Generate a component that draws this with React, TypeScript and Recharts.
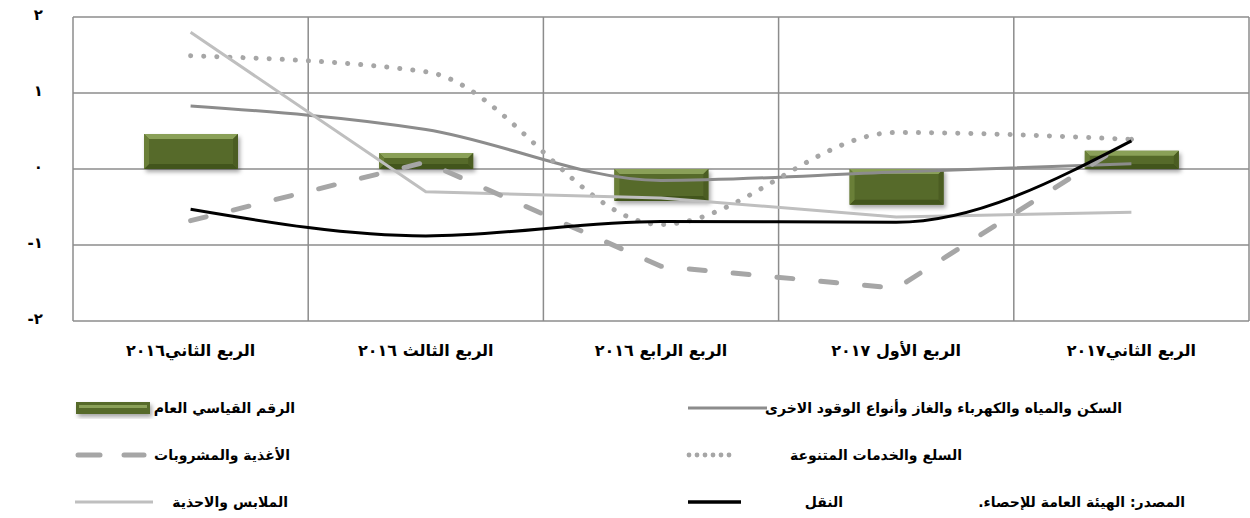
import React from 'react'
import { ComposedChart, Bar, Line, XAxis, YAxis, CartesianGrid } from 'recharts'

const categories = [
  'الربع الثاني٢٠١٦',
  'الربع الثالث ٢٠١٦',
  'الربع الرابع ٢٠١٦',
  'الربع الأول ٢٠١٧',
  'الربع الثاني٢٠١٧',
]

// series values
const generalIndex = [0.46, 0.21, -0.42, -0.47, 0.24]
const housing = [0.83, 0.52, -0.15, -0.04, 0.07]
const miscGoods = [1.49, 1.28, -0.73, 0.48, 0.39]
const food = [-0.68, 0.09, -1.28, -1.57, 0.39]
const clothing = [1.8, -0.3, -0.38, -0.63, -0.57]
const transport = [-0.53, -0.88, -0.69, -0.7, 0.37]

const yTicks = [-2, -1, 0, 1, 2]
const arabicDigits = ['٠', '١', '٢', '٣', '٤', '٥', '٦', '٧', '٨', '٩']

const data = categories.map((name, i) => ({
  name,
  generalIndex: generalIndex[i],
  housing: housing[i],
  miscGoods: miscGoods[i],
  food: food[i],
  clothing: clothing[i],
  transport: transport[i],
}))

const FONT = '"DejaVu Sans", sans-serif'

function toArabic(v: number) {
  const s = String(Math.abs(v))
    .split('')
    .map((c) => arabicDigits[Number(c)] ?? c)
    .join('')
  return v < 0 ? '-' + s : s
}

function BevelBar(props: any) {
  const { x, y, width, height } = props
  const top = Math.min(y, y + height)
  const h = Math.abs(height)
  const b = Math.min(5, h / 3)
  return (
    <g filter="url(#barShadow)">
      <rect x={x} y={top} width={width} height={h} fill="#566a2a" />
      <polygon
        points={`${x},${top} ${x + width},${top} ${x + width - b},${top + b} ${x + b},${top + b}`}
        fill="#8aa059"
      />
      <polygon
        points={`${x},${top + h} ${x + width},${top + h} ${x + width - b},${top + h - b} ${x + b},${top + h - b}`}
        fill="#43541f"
      />
      <polygon
        points={`${x + width},${top} ${x + width},${top + h} ${x + width - b},${top + h - b} ${x + width - b},${top + b}`}
        fill="#4b5d23"
      />
      <polygon
        points={`${x},${top} ${x},${top + h} ${x + b},${top + h - b} ${x + b},${top + b}`}
        fill="#6a7f38"
      />
    </g>
  )
}

function LegendText({ right, y, children }: { right: number; y: number; children: React.ReactNode }) {
  return (
    <div
      dir="rtl"
      style={{
        position: 'absolute',
        right: 1250 - right,
        top: y - 11,
        lineHeight: '22px',
        fontFamily: FONT,
        fontWeight: 'bold',
        fontSize: 14,
        whiteSpace: 'nowrap',
        color: '#000',
      }}
    >
      {children}
    </div>
  )
}

export default function App() {
  return (
    <div style={{ position: 'absolute', left: 0, top: 0, width: 1250, height: 518, background: '#fff' }}>
      <ComposedChart width={1250} height={370} data={data} margin={{ top: 17, right: 1, left: 0, bottom: 0 }}>
        <defs>
          <filter id="barShadow" x="-10%" y="-30%" width="130%" height="170%">
            <feDropShadow dx="2" dy="3" stdDeviation="2" floodColor="#000" floodOpacity="0.35" />
          </filter>
        </defs>
        <CartesianGrid
          stroke="#8c8c8c"
          strokeWidth={1.5}
          verticalCoordinatesGenerator={({ offset }: any) => {
            const step = offset.width / categories.length
            return categories.map((_, i) => offset.left + i * step).concat(offset.left + offset.width)
          }}
        />
        <XAxis
          dataKey="name"
          axisLine={false}
          tickLine={false}
          tickSize={0}
          tickMargin={24}
          height={49}
          interval={0}
          tick={{ fill: '#000', fontFamily: FONT, fontWeight: 'bold', fontSize: 16 }}
        />
        <YAxis
          domain={[-2, 2]}
          ticks={yTicks}
          width={73}
          axisLine={false}
          tickLine={false}
          tickSize={0}
          tickMargin={30}
          tickFormatter={toArabic}
          tick={{ fill: '#000', fontFamily: FONT, fontWeight: 'bold', fontSize: 15, dy: -2 }}
        />
        <Bar dataKey="generalIndex" barSize={94} shape={<BevelBar />} isAnimationActive={false} />
        <Line dataKey="housing" type="monotone" stroke="#8c8c8c" strokeWidth={3} dot={false} isAnimationActive={false} />
        <Line
          dataKey="miscGoods"
          type="monotone"
          stroke="#a6a6a6"
          strokeWidth={5}
          strokeDasharray="0.1 13"
          strokeLinecap="round"
          dot={false}
          isAnimationActive={false}
        />
        <Line dataKey="clothing" type="linear" stroke="#bfbfbf" strokeWidth={3} dot={false} isAnimationActive={false} />
        <Line
          dataKey="food"
          type="linear"
          stroke="#a6a6a6"
          strokeWidth={5}
          strokeDasharray="16 28"
          strokeLinecap="round"
          dot={false}
          isAnimationActive={false}
        />
        <Line dataKey="transport" type="monotone" stroke="#000" strokeWidth={3} dot={false} isAnimationActive={false} />
      </ComposedChart>

      <svg width={1250} height={518} style={{ position: 'absolute', left: 0, top: 0, pointerEvents: 'none' }}>
        <g filter="url(#barShadow)">
          <rect x={76} y={402} width={74} height={12} fill="#566a2a" />
          <rect x={79} y={405} width={68} height={3} fill="#8aa059" />
        </g>
        <line x1={78} y1={455} x2={100} y2={455} stroke="#a6a6a6" strokeWidth={5} strokeLinecap="round" />
        <line x1={124} y1={455} x2={144} y2={455} stroke="#a6a6a6" strokeWidth={5} strokeLinecap="round" />
        <line x1={75} y1={502} x2={153} y2={502} stroke="#bfbfbf" strokeWidth={3} />
        <line x1={688} y1={408} x2={767} y2={408} stroke="#8c8c8c" strokeWidth={3} />
        {[0, 1, 2, 3, 4, 5].map((i) => (
          <circle key={i} cx={689 + i * 8} cy={455} r={2.4} fill="#a6a6a6" />
        ))}
        <line x1={688} y1={502} x2={741} y2={502} stroke="#000" strokeWidth={3.5} />
      </svg>

      <LegendText right={295} y={408}>الرقم القياسي العام</LegendText>
      <LegendText right={290} y={455}>الأغذية والمشروبات</LegendText>
      <LegendText right={288} y={502}>الملابس والاحذية</LegendText>
      <LegendText right={1122} y={408}>السكن والمياه والكهرباء والغاز وأنواع الوقود الاخرى</LegendText>
      <LegendText right={962} y={455}>السلع والخدمات المتنوعة</LegendText>
      <LegendText right={843} y={502}>النقل</LegendText>
      <LegendText right={1185} y={502}>المصدر: الهيئة العامة للإحصاء.</LegendText>
    </div>
  )
}
